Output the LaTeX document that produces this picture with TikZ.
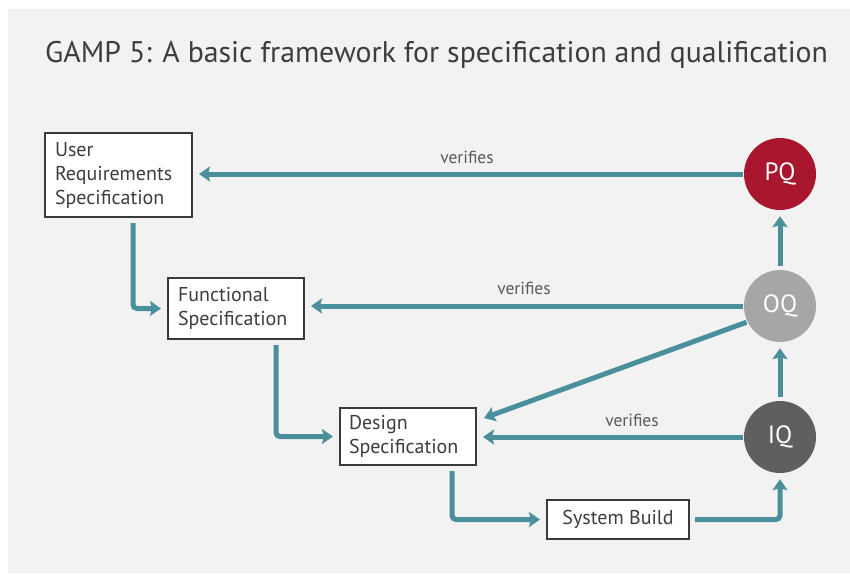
\documentclass[tikz,border=0pt]{standalone}
\usepackage{fontspec}
\setmainfont{PT Sans}
\usetikzlibrary{arrows.meta,calc}
\definecolor{teal1}{HTML}{4A8F9C}
\definecolor{pqred}{HTML}{A8172D}
\definecolor{oqgray}{HTML}{A6A6A6}
\definecolor{iqgray}{HTML}{5F5F5F}
\definecolor{bg}{HTML}{F2F2F2}
\definecolor{boxline}{HTML}{3A3A3A}
\definecolor{txt}{HTML}{3D3D3D}
\tikzset{
  specbox/.style={draw=boxline, line width=2pt, fill=white, text=txt,
    font=\fontsize{20}{24}\selectfont, align=left, anchor=center},
  qcirc/.style={circle, minimum size=72pt, inner sep=0pt, text=white,
    font=\fontsize{25}{28}\selectfont},
  flow/.style={draw=teal1, line width=5pt, rounded corners=4pt,
    -{Stealth[length=11pt,width=15pt,inset=2pt]}, shorten >=6pt, shorten <=3pt},
  verlabel/.style={text=txt!85, font=\fontsize{17.5}{20}\selectfont}
}
\begin{document}
\begin{tikzpicture}[x=1pt,y=-1pt]
\useasboundingbox (0,0) rectangle (850,573);
\fill[white] (0,0) rectangle (850,573);
\fill[bg] (8,9) rectangle (850,573);
\node[anchor=base west, text=txt, font=\fontsize{29.8}{32}\selectfont, inner sep=0pt] (title) at (45,62) {GAMP 5: A basic framework for specification and qualification};

\node[specbox, minimum width=147pt, minimum height=84pt, text width=127pt, inner xsep=10pt] (urs) at (118.5,175) {User\\Requirements\\Specification};
\node[specbox, minimum width=136pt, minimum height=61pt, text width=116pt, inner xsep=10pt] (fs) at (236,308.5) {Functional\\Specification};
\node[specbox, minimum width=136pt, minimum height=57pt, text width=118pt, inner xsep=9pt] (ds) at (408,436.5) {Design\\Specification};
\node[specbox, minimum width=142pt, minimum height=39pt, align=center] (sb) at (618,519.5) {System Build};

\node[qcirc, fill=pqred] (pq) at (780,174) {PQ};
\node[qcirc, fill=oqgray] (oq) at (780,306) {OQ};
\node[qcirc, fill=iqgray] (iq) at (780,437) {IQ};

\draw[flow, shorten <=1pt] (pq.west) -- (pq.west -| urs.east);
\draw[flow, shorten <=1pt] (oq.west) -- (oq.west -| fs.east);
\draw[flow, shorten <=1pt] (iq.west) -- (iq.west -| ds.east);
\draw[flow, shorten <=1pt, shorten >=0pt] (oq.206) -- ($(ds.north east)+(7,11)$);
\draw[flow, shorten <=4pt] (iq.north) -- (oq.south);
\draw[flow, shorten <=4pt] (oq.north) -- (pq.south);

\draw[flow, shorten <=5pt] ([xshift=14.5pt]urs.south) |- (fs.west);
\draw[flow, shorten <=5pt] ([xshift=40pt]fs.south) |- (ds.west);
\draw[flow, shorten <=5pt] ([xshift=44pt]ds.south) |- (sb.west);
\draw[flow, shorten <=5pt] (sb.east) -| (iq.south);

\node[verlabel] (v1) at (467,157) {verifies};
\node[verlabel] (v2) at (524,288) {verifies};
\node[verlabel] (v3) at (632,420) {verifies};
\end{tikzpicture}
\end{document}
